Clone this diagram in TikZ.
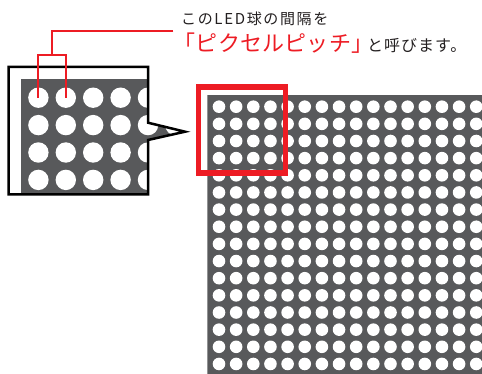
\documentclass[tikz,border=0pt]{standalone}
\usepackage{fontspec}
\newfontfamily\jpA[LetterSpace=11]{Noto Sans CJK JP}
\newfontfamily\jpB[LetterSpace=1]{Noto Sans CJK JP}
\newfontfamily\jpC[LetterSpace=6]{Noto Sans CJK JP}
\definecolor{ledgray}{RGB}{88,89,91}
\definecolor{ledred}{RGB}{237,28,36}
\definecolor{txt}{RGB}{35,31,32}
\tikzset{
  bigdot/.style={fill=white},
  redline/.style={draw=ledred, line width=2pt},
  txtnode/.style={inner sep=0pt, anchor=base west, text=txt},
}
\begin{document}
\begin{tikzpicture}[x=1pt,y=-1pt]
\useasboundingbox (0,0) rectangle (482,374);
% big LED panel
\begin{scope}
  \clip (207.3,95) rectangle (482,374);
  \fill[ledgray] (207.3,95) rectangle (482,374);
  \foreach \i in {0,...,15}{
    \foreach \j in {0,...,15}{
      \fill[bigdot] (219+17.15*\i, 106.7+17.15*\j) circle[radius=6.3pt];
    }
  }
\end{scope}
% red frame
\draw[ledred, line width=5.5pt] (198.7,87) rectangle (285.5,173);
% inset callout
\begin{scope}
  \clip (8.5,67) -- (148,67) -- (148,122.7) -- (185,131.7) -- (148,140) -- (148,194.5) -- (8.5,194.5) -- cycle;
  \fill[ledgray] (20.7,79) rectangle (200,200);
  \foreach \i in {0,...,5}{
    \foreach \j in {0,...,4}{
      \fill[bigdot] (38.4+27.4*\i, 97.7+27.4*\j) circle[radius=10.2pt];
    }
  }
\end{scope}
\draw[black, line width=2.5pt] (8.5,67) -- (148,67) -- (148,122.7) -- (185,131.7) -- (148,140) -- (148,194.5) -- (8.5,194.5) -- cycle;
% texts
\node[txtnode, font=\jpA\fontsize{15pt}{18pt}\selectfont] (l1) at (181,25) {このLED球の間隔を};
\node[txtnode, text=ledred, font=\jpB\fontsize{22pt}{25pt}\selectfont] (l2) at (173.5,52) {「ピクセルピッチ」};
\node[txtnode, font=\jpC\fontsize{16pt}{19pt}\selectfont] (l3) at (367,52) {と呼びます。};
% connector
\coordinate (c0) at (173.3,30.7);
\coordinate (c1) at (52,30.7);
\coordinate (c2) at (52,55.5);
\coordinate (dl) at (38.4,97.7);
\coordinate (dr) at (65.8,97.7);
\draw[redline] (c0) -- (c1) -- (c2);
\draw[redline] (dl) |- (c2) -| (dr);
\end{tikzpicture}
\end{document}
